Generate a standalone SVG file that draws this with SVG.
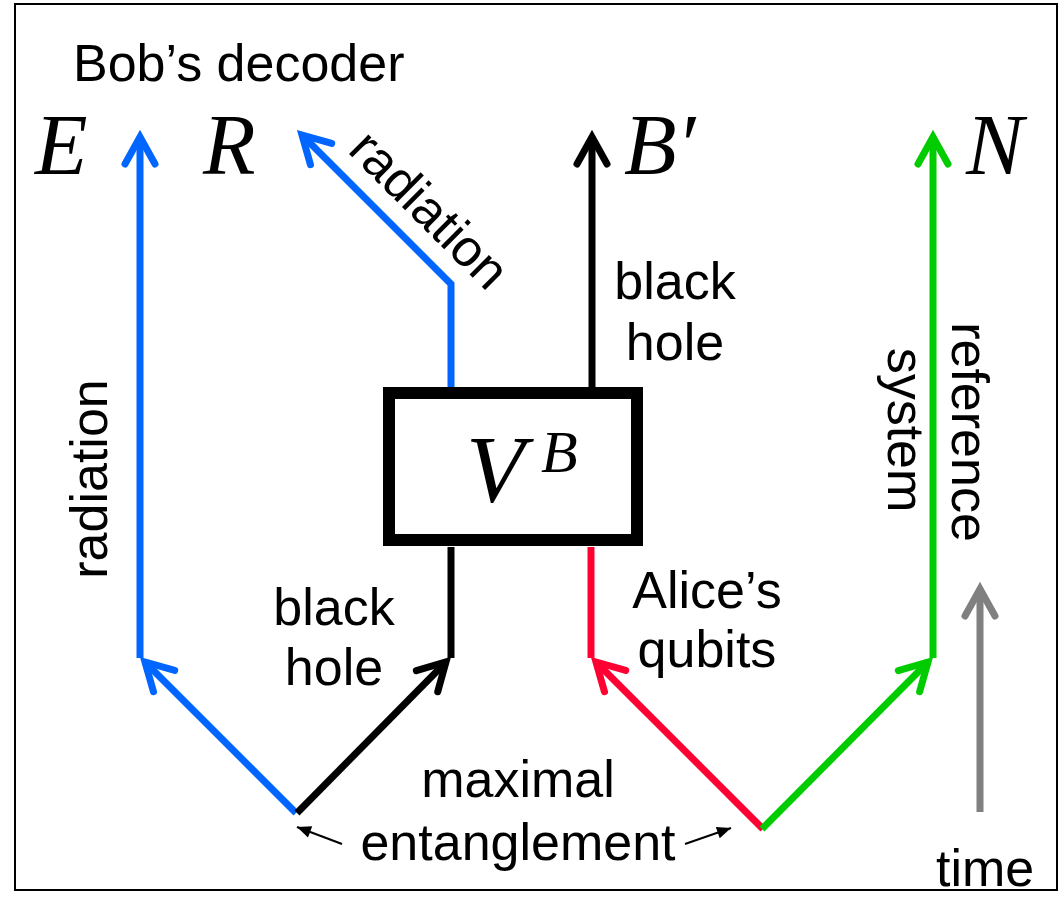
<svg xmlns="http://www.w3.org/2000/svg" width="1064" height="898" viewBox="0 0 1064 898">
<style>
.t{font-family:"Liberation Sans",Arial,sans-serif;font-size:52px;fill:#000}
.m{font-family:"Liberation Serif","Times New Roman",serif;font-style:italic;fill:#000}
.c{fill:none;stroke-width:7;stroke-linecap:butt}
.blue{stroke:#0066ff}.blk{stroke:#000}.red{stroke:#ff0033}.grn{stroke:#00cc00}.gry{stroke:#808080}
.thin{fill:none;stroke:#000;stroke-width:2}
</style>
<defs>
<marker id="hb" markerUnits="userSpaceOnUse" orient="auto" overflow="visible" markerWidth="1" markerHeight="1"><path d="M-27,-15 L0,0 L-27,15" fill="none" stroke="#0066ff" stroke-width="7" stroke-linecap="round" stroke-linejoin="miter"/></marker>
<marker id="hk" markerUnits="userSpaceOnUse" orient="auto" overflow="visible" markerWidth="1" markerHeight="1"><path d="M-27,-15 L0,0 L-27,15" fill="none" stroke="#000" stroke-width="7" stroke-linecap="round" stroke-linejoin="miter"/></marker>
<marker id="hr" markerUnits="userSpaceOnUse" orient="auto" overflow="visible" markerWidth="1" markerHeight="1"><path d="M-27,-15 L0,0 L-27,15" fill="none" stroke="#ff0033" stroke-width="7" stroke-linecap="round" stroke-linejoin="miter"/></marker>
<marker id="hg" markerUnits="userSpaceOnUse" orient="auto" overflow="visible" markerWidth="1" markerHeight="1"><path d="M-27,-15 L0,0 L-27,15" fill="none" stroke="#00cc00" stroke-width="7" stroke-linecap="round" stroke-linejoin="miter"/></marker>
<marker id="hy" markerUnits="userSpaceOnUse" orient="auto" overflow="visible" markerWidth="1" markerHeight="1"><path d="M-27,-15 L0,0 L-27,15" fill="none" stroke="#808080" stroke-width="7" stroke-linecap="round" stroke-linejoin="miter"/></marker>
<marker id="hs" markerUnits="userSpaceOnUse" orient="auto" overflow="visible" markerWidth="1" markerHeight="1"><path d="M-14,-6 L0,0 L-14,6 Z" fill="#000"/></marker>
</defs>
<rect x="15" y="4" width="1042" height="886" fill="#fff" stroke="#000" stroke-width="2"/>
<g id="connectors">
<path class="c blue" d="M296,813 L145,662" marker-end="url(#hb)"/>
<path class="c blue" d="M140,658 L140,137" marker-end="url(#hb)"/>
<path class="c blue" d="M451,387 L451,284 L302,135" marker-end="url(#hb)"/>
<path class="c blk" d="M592,387 L592,137" marker-end="url(#hk)"/>
<path class="c blk" d="M451,547 L451,658"/>
<path class="c blk" d="M297,813 L446,662" marker-end="url(#hk)"/>
<path class="c red" d="M591,547 L591,658"/>
<path class="c red" d="M763,829 L596,662" marker-end="url(#hr)"/>
<path class="c grn" d="M762,829 L928,662" marker-end="url(#hg)"/>
<path class="c grn" d="M933,658 L933,137" marker-end="url(#hg)"/>
<path class="c gry" d="M980,812 L980,589" marker-end="url(#hy)"/>
<path class="thin" d="M342,844 L297,827" marker-end="url(#hs)"/>
<path class="thin" d="M685,844 L731,828" marker-end="url(#hs)"/>
</g>
<g id="box">
<rect x="389" y="393" width="248" height="147" fill="#fff" stroke="#000" stroke-width="12"/>
<text class="m" x="466" y="502" font-size="96">V</text>
<text class="m" x="541" y="472" font-size="60">B</text>
</g>
<g id="title"><text class="t" x="73" y="81">Bob’s decoder</text></g>
<g id="node-E"><text class="m" x="35" y="174" font-size="86">E</text></g>
<g id="node-R"><text class="m" x="203" y="174" font-size="86">R</text></g>
<g id="node-Bp"><text class="m" x="624" y="174" font-size="86">B′</text></g>
<g id="node-N"><text class="m" x="966" y="174" font-size="86">N</text></g>
<g id="labels">
<text class="t" text-anchor="middle" transform="translate(107,479) rotate(-90)">radiation</text>
<text class="t" text-anchor="middle" transform="translate(417,222) rotate(45)">radiation</text>
<text class="t" text-anchor="middle" x="675" y="299">black</text>
<text class="t" text-anchor="middle" x="675" y="360">hole</text>
<text class="t" text-anchor="middle" x="334" y="625">black</text>
<text class="t" text-anchor="middle" x="334" y="685">hole</text>
<text class="t" text-anchor="middle" x="707" y="608">Alice’s</text>
<text class="t" text-anchor="middle" x="707" y="667">qubits</text>
<text class="t" text-anchor="middle" transform="translate(952,432) rotate(90)">reference</text>
<text class="t" text-anchor="middle" transform="translate(888,430) rotate(90)">system</text>
<text class="t" text-anchor="middle" x="518" y="797">maximal</text>
<text class="t" text-anchor="middle" x="518" y="860">entanglement</text>
</g>
<g id="time"><text class="t" x="936" y="886">time</text></g>
</svg>
